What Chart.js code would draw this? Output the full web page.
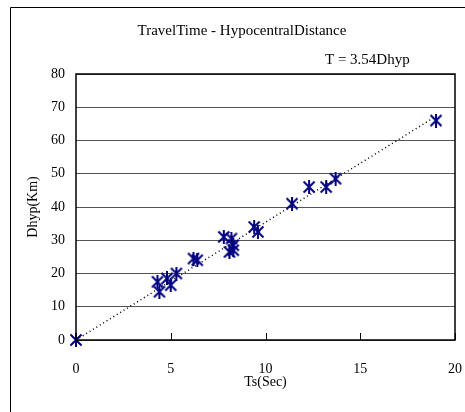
<!DOCTYPE html>
<html>
<head>
<meta charset="utf-8">
<script src="https://cdn.jsdelivr.net/npm/chart.js@4.4.0/dist/chart.umd.min.js"></script>
<style>
  html, body { margin: 0; padding: 0; background: #fff; }
</style>
</head>
<body>
<canvas id="myChart" width="465" height="412"></canvas>
<script>
// values
const tsSec = [0, 4.3, 4.4, 4.8, 5.0, 5.3, 6.2, 6.4, 7.8, 8.2, 8.3, 8.1, 8.3, 9.4, 9.6, 11.4, 12.3, 13.2, 13.7, 19.0];
const dhypKm = [0, 17.5, 14.5, 18.5, 16.5, 20, 24.5, 24, 31, 30.5, 28.5, 26.5, 27, 34, 32.5, 41, 46, 46, 48.5, 66];

// trendline end points (T = 3.54Dhyp)
const trendTs = [0, 19];
const trendDhyp = [0, 67.3];

const xTicks = [0, 5, 10, 15, 20];
const yTicks = [0, 10, 20, 30, 40, 50, 60, 70, 80];

const chartTitle = "TravelTime - HypocentralDistance";
const equationText = "T = 3.54Dhyp";
const xTitle = "Ts(Sec)";
const yTitle = "Dhyp(Km)";

const serif = "'Liberation Serif', 'DejaVu Serif', serif";

// star marker like the spreadsheet one: an X with a vertical bar
function makeStar(size, color) {
  const c = document.createElement("canvas");
  c.width = size;
  c.height = size;
  const g = c.getContext("2d");
  g.strokeStyle = color;
  g.lineWidth = 2;
  const m = 1.5;
  g.beginPath();
  g.moveTo(m, m); g.lineTo(size - m, size - m);
  g.moveTo(size - m, m); g.lineTo(m, size - m);
  g.moveTo(size / 2, 0); g.lineTo(size / 2, size);
  g.stroke();
  return c;
}
const star = makeStar(14, "#000080");

const points = [];
for (let i = 0; i < tsSec.length; i++) {
  points.push({ x: tsSec[i], y: dhypKm[i] });
}
const trend = [];
for (let i = 0; i < trendTs.length; i++) {
  trend.push({ x: trendTs[i], y: trendDhyp[i] });
}

// frame, header texts, plot border and inside tick marks
const decorations = {
  id: "decorations",
  beforeDraw(chart) {
    const ctx = chart.ctx;
    ctx.save();
    ctx.strokeStyle = "#000";
    ctx.lineWidth = 1;
    ctx.beginPath();
    ctx.moveTo(10.5, 412);
    ctx.lineTo(10.5, 7.5);
    ctx.lineTo(465, 7.5);
    ctx.stroke();

    ctx.fillStyle = "#000";
    ctx.font = "15px " + serif;
    ctx.textBaseline = "middle";
    ctx.textAlign = "center";
    ctx.fillText(chartTitle, 242, 31);
    ctx.textAlign = "left";
    ctx.fillText(equationText, 325, 60);
    ctx.restore();
  },
  afterDraw(chart) {
    const ctx = chart.ctx;
    const a = chart.chartArea;
    const xs = chart.scales.x;
    ctx.save();
    ctx.strokeStyle = "#000";
    ctx.lineWidth = 1.5;
    ctx.strokeRect(a.left, a.top, a.right - a.left, a.bottom - a.top);
    ctx.beginPath();
    xTicks.forEach(function (t) {
      const px = Math.round(xs.getPixelForValue(t)) + 0.5;
      ctx.moveTo(px, a.bottom);
      ctx.lineTo(px, a.bottom - 7);
    });
    ctx.lineWidth = 1;
    ctx.stroke();
    ctx.restore();
  }
};

const ctx = document.getElementById("myChart");
new Chart(ctx, {
  type: "scatter",
  data: {
    datasets: [
      {
        label: "Dhyp",
        data: points,
        pointStyle: star,
        borderColor: "#000080",
        backgroundColor: "#000080",
        clip: false
      },
      {
        type: "line",
        label: "trend",
        data: trend,
        borderColor: "#000",
        borderWidth: 1.5,
        borderDash: [1, 3],
        pointRadius: 0,
        fill: false
      }
    ]
  },
  options: {
    responsive: false,
    animation: false,
    devicePixelRatio: 1,
    layout: { padding: { top: 74, right: 10, left: 0, bottom: 0 } },
    plugins: {
      legend: { display: false },
      tooltip: { enabled: false }
    },
    scales: {
      x: {
        type: "linear",
        min: xTicks[0],
        max: xTicks[xTicks.length - 1],
        afterBuildTicks: function (s) { s.ticks = xTicks.map(v => ({ value: v })); },
        afterFit: function (s) {
          s.height = 72;
          s.paddingLeft = 0;
          s.paddingRight = 0;
        },
        ticks: { color: "#000", font: { family: serif, size: 14 }, padding: 13 },
        grid: { display: false },
        border: { display: false },
        title: {
          display: true,
          text: xTitle,
          color: "#000",
          font: { family: serif, size: 14 },
          padding: { bottom: 21 }
        }
      },
      y: {
        type: "linear",
        min: yTicks[0],
        max: yTicks[yTicks.length - 1],
        afterBuildTicks: function (s) { s.ticks = yTicks.map(v => ({ value: v })); },
        afterFit: function (s) { s.width = 76; },
        ticks: { color: "#000", font: { family: serif, size: 14 }, padding: 11 },
        grid: { color: "#555", lineWidth: 1, drawTicks: false },
        border: { display: false },
        title: {
          display: true,
          text: yTitle,
          color: "#000",
          font: { family: serif, size: 14 },
          padding: { top: 25 }
        }
      }
    }
  },
  plugins: [decorations]
});
</script>
</body>
</html>
